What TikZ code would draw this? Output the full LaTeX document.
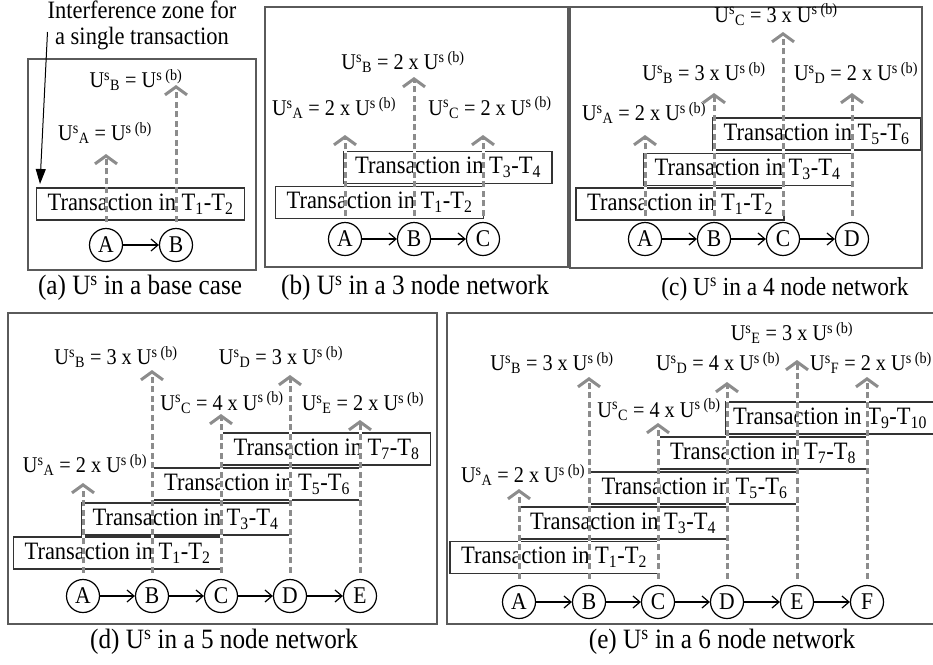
\documentclass[tikz,border=0pt]{standalone}
\usepackage{fontspec}
\setmainfont[FakeStretch=0.9]{Liberation Serif}
\definecolor{loadgray}{HTML}{8C8C8C}
\definecolor{framegray}{HTML}{5A5A5A}
\usepackage{tikz}
\usetikzlibrary{arrows.meta, positioning}
\tikzset{
	netnode/.style={
			circle,
			draw=black,
			line width=1.2pt,
			minimum size=33pt,
			inner sep=0pt,
			font=\fontsize{24}{24}\selectfont
		},
	txbox/.style={
			rectangle,
			draw=black!80,
			line width=1.2pt,
			minimum width=208pt,
			minimum height=32pt,
			inner sep=0pt,
			font=\fontsize{25}{25}\selectfont
		},
	ulabel/.style={
			inner sep=0pt,
			font=\fontsize{22.5}{22.5}\selectfont
		},
	capt/.style={
			inner sep=0pt,
			font=\fontsize{28}{28}\selectfont
		},
	note/.style={
			inner sep=0pt,
			align=center,
			font=\fontsize{25}{26}\selectfont
		},
	frame/.style={
			draw=framegray,
			line width=1.2pt
		},
	link/.style={
			line width=1.2pt,
			-{Straight Barb[length=7pt,width=12pt]}
		},
	load/.style={
			draw=loadgray,
			line width=3pt,
			dash pattern=on 6pt off 3.5pt,
			-{Straight Barb[length=8pt,width=22pt]},
			preaction={draw=white, line width=3pt, solid}
		},
	pointer/.style={
			line width=1pt,
			-{Triangle[length=15pt,width=10pt]}
		}
}

\begin{document}
\begin{tikzpicture}[x=1pt, y=-1pt]
\useasboundingbox (0,0) rectangle (933,664);
\clip (0,0) rectangle (933,664);

% (a)
\draw[frame] (28,59) rectangle (256,270);
\node[note] (note) at (142,25) {Interference zone for\\a single transaction};
\coordinate (zonetip) at (40,184);
\draw[pointer] ([yshift=-7pt]note.west) -- (zonetip);
\node[txbox] (at1) at (140.5,204) {Transaction in T\textsubscript{1}-T\textsubscript{2}};
\node[netnode] (a1) at (106,245) {A};
\node[netnode] (a2) at (176,245) {B};
\draw[link] (a1) -- (a2);
\coordinate (atip1) at (106,154);
\coordinate (atip2) at (176,85);
\draw[load] ([yshift=6pt]a1.north) -- (atip1);
\draw[load] ([yshift=6pt]a2.north) -- (atip2);
\node[ulabel] (al1) at (105,133) {U\textsuperscript{s}\textsubscript{A} = U\textsuperscript{s (b)}};
\node[ulabel] (al2) at (136,80) {U\textsuperscript{s}\textsubscript{B} = U\textsuperscript{s (b)}};
\node[capt] (acap) at (140,288) {(a) U\textsuperscript{s} in a base case};

% (b)
\draw[frame] (265,7) rectangle (568,267);
\node[txbox] (bt1) at (379.5,202.5) {Transaction in T\textsubscript{1}-T\textsubscript{2}};
\node[txbox] (bt2) at (448,167.5) {Transaction in T\textsubscript{3}-T\textsubscript{4}};
\node[netnode] (b1) at (345,239) {A};
\node[netnode] (b2) at (414,239) {B};
\node[netnode] (b3) at (483,239) {C};
\draw[link] (b1) -- (b2);
\draw[link] (b2) -- (b3);
\coordinate (btip1) at (345,135);
\coordinate (btip2) at (414,77);
\coordinate (btip3) at (483,135);
\draw[load] ([yshift=6pt]b1.north) -- (btip1);
\draw[load] ([yshift=6pt]b2.north) -- (btip2);
\draw[load] ([yshift=6pt]b3.north) -- (btip3);
\node[ulabel] (bl1) at (334,108) {U\textsuperscript{s}\textsubscript{A} = 2 x U\textsuperscript{s (b)}};
\node[ulabel] (bl2) at (403,62) {U\textsuperscript{s}\textsubscript{B} = 2 x U\textsuperscript{s (b)}};
\node[ulabel] (bl3) at (490,108) {U\textsuperscript{s}\textsubscript{C} = 2 x U\textsuperscript{s (b)}};
\node[capt] (bcap) at (415,288) {(b) U\textsuperscript{s} in a 3 node network};

% (c)
\draw[frame] (570,7) rectangle (922,268);
\node[txbox] (ct1) at (680,204) {Transaction in T\textsubscript{1}-T\textsubscript{2}};
\node[txbox] (ct2) at (747.5,169.5) {Transaction in T\textsubscript{3}-T\textsubscript{4}};
\node[txbox] (ct3) at (816.5,134) {Transaction in T\textsubscript{5}-T\textsubscript{6}};
\node[netnode] (c1) at (645,239) {A};
\node[netnode] (c2) at (714,239) {B};
\node[netnode] (c3) at (783,239) {C};
\node[netnode] (c4) at (852,239) {D};
\draw[link] (c1) -- (c2);
\draw[link] (c2) -- (c3);
\draw[link] (c3) -- (c4);
\coordinate (ctip1) at (645,135);
\coordinate (ctip2) at (714,93);
\coordinate (ctip3) at (783,32);
\coordinate (ctip4) at (852,93);
\draw[load] ([yshift=6pt]c1.north) -- (ctip1);
\draw[load] ([yshift=6pt]c2.north) -- (ctip2);
\draw[load] ([yshift=6pt]c3.north) -- (ctip3);
\draw[load] ([yshift=6pt]c4.north) -- (ctip4);
\node[ulabel] (cl1) at (644,113) {U\textsuperscript{s}\textsubscript{A} = 2 x U\textsuperscript{s (b)}};
\node[ulabel] (cl2) at (704,73) {U\textsuperscript{s}\textsubscript{B} = 3 x U\textsuperscript{s (b)}};
\node[ulabel] (cl3) at (776,15) {U\textsuperscript{s}\textsubscript{C} = 3 x U\textsuperscript{s (b)}};
\node[ulabel] (cl4) at (856,73) {U\textsuperscript{s}\textsubscript{D} = 2 x U\textsuperscript{s (b)}};
\node[capt, font=\fontsize{26}{26}\selectfont] (ccap) at (785,289) {(c) U\textsuperscript{s} in a 4 node network};

% (d)
\draw[frame] (8,313) rectangle (437,624);
\node[txbox] (dt1) at (117.5,553) {Transaction in T\textsubscript{1}-T\textsubscript{2}};
\node[txbox] (dt2) at (185.5,519) {Transaction in T\textsubscript{3}-T\textsubscript{4}};
\node[txbox] (dt3) at (257,484) {Transaction in T\textsubscript{5}-T\textsubscript{6}};
\node[txbox] (dt4) at (326.5,449) {Transaction in T\textsubscript{7}-T\textsubscript{8}};
\node[netnode] (d1) at (83,596) {A};
\node[netnode] (d2) at (152,596) {B};
\node[netnode] (d3) at (221,596) {C};
\node[netnode] (d4) at (290,596) {D};
\node[netnode] (d5) at (360,596) {E};
\draw[link] (d1) -- (d2);
\draw[link] (d2) -- (d3);
\draw[link] (d3) -- (d4);
\draw[link] (d4) -- (d5);
\coordinate (dtip1) at (83,483);
\coordinate (dtip2) at (152,370);
\coordinate (dtip3) at (221,414);
\coordinate (dtip4) at (290,375);
\coordinate (dtip5) at (360,420);
\draw[load] ([yshift=6pt]d1.north) -- (dtip1);
\draw[load] ([yshift=6pt]d2.north) -- (dtip2);
\draw[load] ([yshift=6pt]d3.north) -- (dtip3);
\draw[load] ([yshift=6pt]d4.north) -- (dtip4);
\draw[load] ([yshift=6pt]d5.north) -- (dtip5);
\node[ulabel] (dl1) at (85,465) {U\textsuperscript{s}\textsubscript{A} = 2 x U\textsuperscript{s (b)}};
\node[ulabel] (dl2) at (116,357) {U\textsuperscript{s}\textsubscript{B} = 3 x U\textsuperscript{s (b)}};
\node[ulabel] (dl3) at (222,403) {U\textsuperscript{s}\textsubscript{C} = 4 x U\textsuperscript{s (b)}};
\node[ulabel] (dl4) at (281,357) {U\textsuperscript{s}\textsubscript{D} = 3 x U\textsuperscript{s (b)}};
\node[ulabel] (dl5) at (363,403) {U\textsuperscript{s}\textsubscript{E} = 2 x U\textsuperscript{s (b)}};
\node[capt] (dcap) at (224,642) {(d) U\textsuperscript{s} in a 5 node network};

% (e)
\draw[frame] (447,313) rectangle (940,624);
\node[txbox] (et1) at (554,557.5) {Transaction in T\textsubscript{1}-T\textsubscript{2}};
\node[txbox] (et2) at (623,523) {Transaction in T\textsubscript{3}-T\textsubscript{4}};
\node[txbox] (et3) at (694.5,488) {Transaction in T\textsubscript{5}-T\textsubscript{6}};
\node[txbox] (et4) at (763,453) {Transaction in T\textsubscript{7}-T\textsubscript{8}};
\node[txbox] (et5) at (830,418) {Transaction in T\textsubscript{9}-T\textsubscript{10}};
\node[netnode] (e1) at (519,602) {A};
\node[netnode] (e2) at (589,602) {B};
\node[netnode] (e3) at (658,602) {C};
\node[netnode] (e4) at (727,602) {D};
\node[netnode] (e5) at (797,602) {E};
\node[netnode] (e6) at (867,602) {F};
\draw[link] (e1) -- (e2);
\draw[link] (e2) -- (e3);
\draw[link] (e3) -- (e4);
\draw[link] (e4) -- (e5);
\draw[link] (e5) -- (e6);
\coordinate (etip1) at (519,489);
\coordinate (etip2) at (589,377);
\coordinate (etip3) at (658,423);
\coordinate (etip4) at (727,382);
\coordinate (etip5) at (797,360);
\coordinate (etip6) at (867,377);
\draw[load] ([yshift=6pt]e1.north) -- (etip1);
\draw[load] ([yshift=6pt]e2.north) -- (etip2);
\draw[load] ([yshift=6pt]e3.north) -- (etip3);
\draw[load] ([yshift=6pt]e4.north) -- (etip4);
\draw[load] ([yshift=6pt]e5.north) -- (etip5);
\draw[load] ([yshift=6pt]e6.north) -- (etip6);
\node[ulabel] (el1) at (523,475) {U\textsuperscript{s}\textsubscript{A} = 2 x U\textsuperscript{s (b)}};
\node[ulabel] (el2) at (552,363) {U\textsuperscript{s}\textsubscript{B} = 3 x U\textsuperscript{s (b)}};
\node[ulabel] (el3) at (659,410) {U\textsuperscript{s}\textsubscript{C} = 4 x U\textsuperscript{s (b)}};
\node[ulabel] (el4) at (718,363) {U\textsuperscript{s}\textsubscript{D} = 4 x U\textsuperscript{s (b)}};
\node[ulabel] (el5) at (792,333) {U\textsuperscript{s}\textsubscript{E} = 3 x U\textsuperscript{s (b)}};
\node[ulabel] (el6) at (871,363) {U\textsuperscript{s}\textsubscript{F} = 2 x U\textsuperscript{s (b)}};
\node[capt] (ecap) at (722,642) {(e) U\textsuperscript{s} in a 6 node network};
\end{tikzpicture}
\end{document}
